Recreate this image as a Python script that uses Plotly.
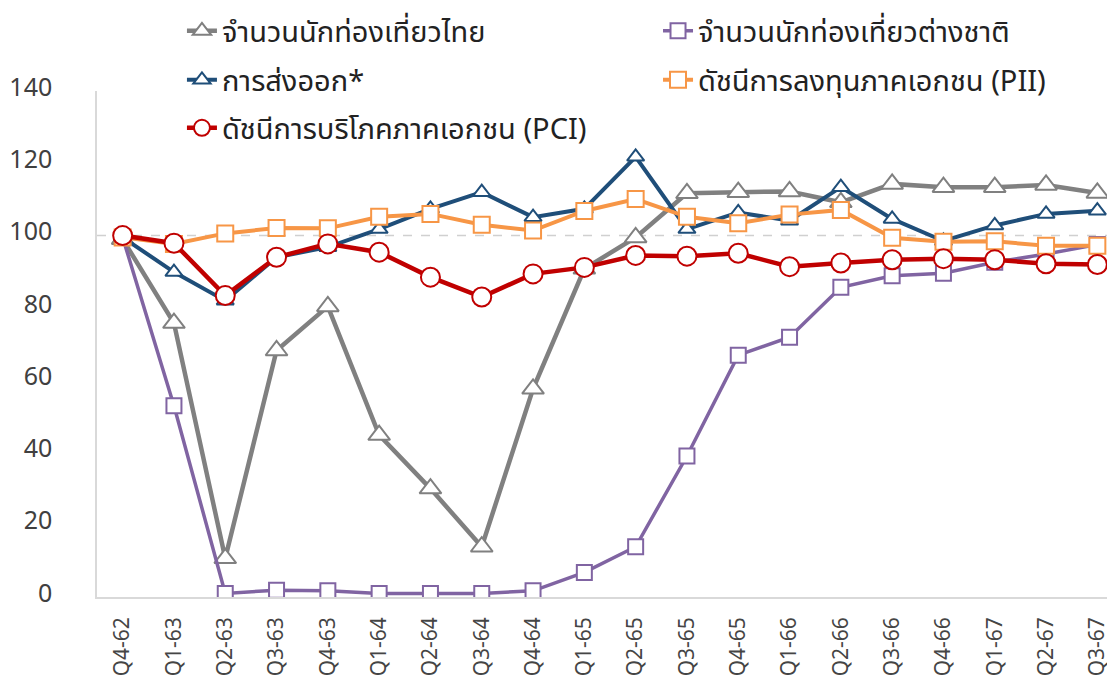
import plotly.graph_objects as go

quarters = ["Q4-62", "Q1-63", "Q2-63", "Q3-63", "Q4-63", "Q1-64", "Q2-64", "Q3-64",
            "Q4-64", "Q1-65", "Q2-65", "Q3-65", "Q4-65", "Q1-66", "Q2-66", "Q3-66",
            "Q4-66", "Q1-67", "Q2-67", "Q3-67"]

thai_tourists = [99, 75.8, 10.7, 68.2, 80.4, 44.8, 30.0, 13.9, 57.6, 90.8,
                 99.5, 111.7, 112.0, 112.2, 109.2, 114.3, 113.4, 113.4, 114.0, 111.8]
foreign_tourists = [99.5, 52.9, 1.0, 1.9, 1.7, 1.0, 1.0, 1.0, 1.7, 6.8,
                    13.9, 39.0, 66.9, 71.9, 85.7, 88.9, 89.6, 92.6, 94.9, 97.5]
exports = [99.5, 89.9, 82.0, 94.0, 96.8, 101.8, 107.4, 112.0, 105.1, 107.4,
           121.8, 101.8, 106.4, 104.1, 113.4, 104.6, 98.5, 102.8, 106.0, 106.9]
pii = [99.5, 97.7, 100.6, 102.1, 102.0, 105.2, 106.0, 103.0, 101.4, 106.8,
       110.1, 105.2, 103.4, 105.8, 107.1, 99.4, 98.3, 98.4, 97.2, 97.2]
pci = [100, 97.9, 83.4, 94.0, 97.7, 95.4, 88.5, 83.0, 89.4, 91.2,
       94.5, 94.3, 95.1, 91.4, 92.4, 93.3, 93.6, 93.3, 92.2, 92.0]

BASE = 100

THAI_FONT = "Noto Sans Thai, Noto Sans, sans-serif"

# name, values, colour, symbol, marker size, line width
series = [
    ("จำนวนนักท่องเที่ยวไทย", thai_tourists, "#808080", "triangle-up", 19, 4.5),
    ("จำนวนนักท่องเที่ยวต่างชาติ", foreign_tourists, "#8064A2", "square", 15, 3.5),
    ("การส่งออก*", exports, "#1F4E79", "triangle-up", 15, 4),
    ("ดัชนีการลงทุนภาคเอกชน (PII)", pii, "#F79646", "square", 16, 4),
    ("ดัชนีการบริโภคภาคเอกชน (PCI)", pci, "#C00000", "circle", 19, 4.5),
]
# one legend per entry so the 2-column layout can be placed by hand
leg_pos = [(0.0828, 1.1186), (0.5468, 1.1186),
           (0.0828, 1.0217), (0.5468, 1.0217),
           (0.0828, 0.927)]

fig = go.Figure()
legends = {}
for k, (name, vals, col, sym, msize, lw) in enumerate(series):
    key = "legend" if k == 0 else f"legend{k + 1}"
    fig.add_trace(go.Scatter(
        x=quarters, y=vals, name=name, mode="lines+markers",
        line=dict(color=col, width=lw),
        marker=dict(symbol=sym, size=msize, color="white",
                    line=dict(color=col, width=2)),
        legend=key,
    ))
    lx, ly = leg_pos[k]
    legends[key] = dict(
        x=lx, y=ly, xanchor="left", yanchor="middle", orientation="h",
        font=dict(family=THAI_FONT, size=29, color="#222222"),
        bgcolor="rgba(0,0,0,0)",
    )

fig.add_hline(y=BASE, line=dict(color="#D0D0D0", width=1.5, dash="dash"), layer="below")

# page body has an 8px margin, so the figure is laid out 8px further in
fig.update_layout(
    width=1115, height=689,
    margin=dict(l=89, r=0, t=83, b=100, autoexpand=False),
    plot_bgcolor="white", paper_bgcolor="white",
    showlegend=True,
    **legends,
)

fig.update_xaxes(
    range=[-0.5, 19.5],
    showline=True, linecolor="#D9D9D9", linewidth=1.5,
    showgrid=False, ticks="", tickangle=-90,
    tickfont=dict(family="Noto Sans, sans-serif", size=21, color="#454545"),
    ticklabelstandoff=10,
)
fig.update_yaxes(
    range=[0, 140], dtick=20,
    showline=True, linecolor="#D9D9D9", linewidth=1.5,
    showgrid=False, zeroline=False, ticks="",
    tickfont=dict(family="Noto Sans, sans-serif", size=25, color="#404040"),
    ticklabelstandoff=38, ticklabelshift=-4,
)

fig.write_html("out.html")
